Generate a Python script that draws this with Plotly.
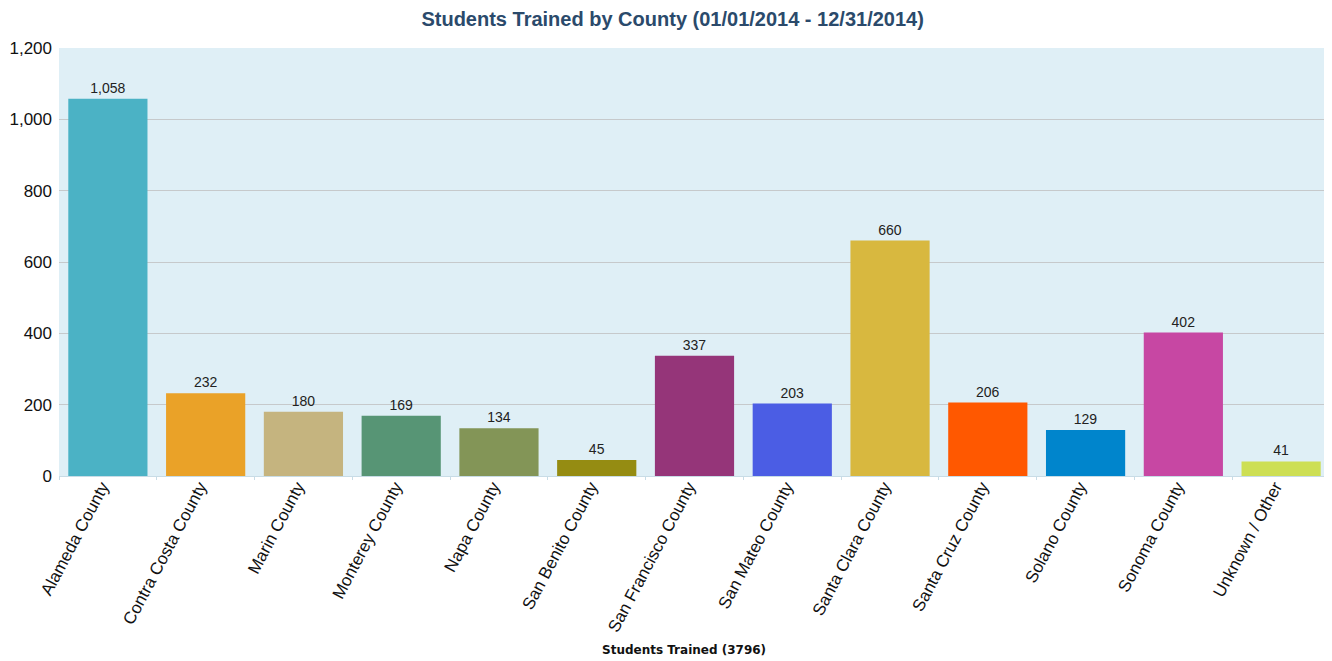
import plotly.graph_objects as go

counties = ["Alameda County", "Contra Costa County", "Marin County", "Monterey County",
            "Napa County", "San Benito County", "San Francisco County", "San Mateo County",
            "Santa Clara County", "Santa Cruz County", "Solano County", "Sonoma County",
            "Unknown / Other"]
students = [1058, 232, 180, 169, 134, 45, 337, 203, 660, 206, 129, 402, 41]
colors = ["#4bb2c5", "#eaa228", "#c5b47f", "#579575", "#839557", "#958c12", "#953579",
          "#4b5de4", "#d8b83f", "#ff5800", "#0085cc", "#c747a3", "#cddf54"]
y_ticks = [0, 200, 400, 600, 800, 1000, 1200]
total = sum(students)

fig = go.Figure(go.Bar(
    x=counties, y=students, marker=dict(color=colors, line=dict(width=0)),
    text=[f"{v:,}" for v in students], textposition="outside", cliponaxis=False,
    textfont=dict(family="Liberation Sans, Arial", size=14, color="#222"),
))

fig.update_layout(
    width=1324, height=653,
    margin=dict(l=51, r=2, t=40, b=185),
    paper_bgcolor="white", plot_bgcolor="#dfeff6",
    bargap=0.19,
    showlegend=False,
    title=dict(text="<b>Students Trained by County (01/01/2014 - 12/31/2014)</b>",
               x=0.502, xref="container", xanchor="center", y=0.983, yanchor="middle",
               font=dict(family="Liberation Sans, Arial", size=20, color="#2b4a6b")),
    xaxis=dict(tickangle=-62, tickfont=dict(family="Liberation Sans, Arial", size=17, color="#111"),
               showgrid=False, showline=True, linecolor="#c8dce6", ticks="outside",
               tickcolor="#c8dce6", ticklen=3, tickson="boundaries", automargin=False,
               ticklabelstandoff=-7, ticklabelshift=-6),
    yaxis=dict(range=[0, 1200], tickvals=y_ticks, tickformat=",", showgrid=True,
               gridcolor="#c6c9cb", gridwidth=1, zeroline=False, showline=False,
               tickfont=dict(family="Liberation Sans, Arial", size=17, color="#111"),
               ticks="", automargin=False, ticklabelstandoff=6),
    annotations=[dict(text=f"<b>Students Trained ({total})</b>", xref="paper", yref="paper",
                      x=0.4917, y=-0.4065, yanchor="middle", showarrow=False,
                      font=dict(family="DejaVu Sans, Verdana", size=12, color="#111"))],
)

fig.write_html("out.html")
